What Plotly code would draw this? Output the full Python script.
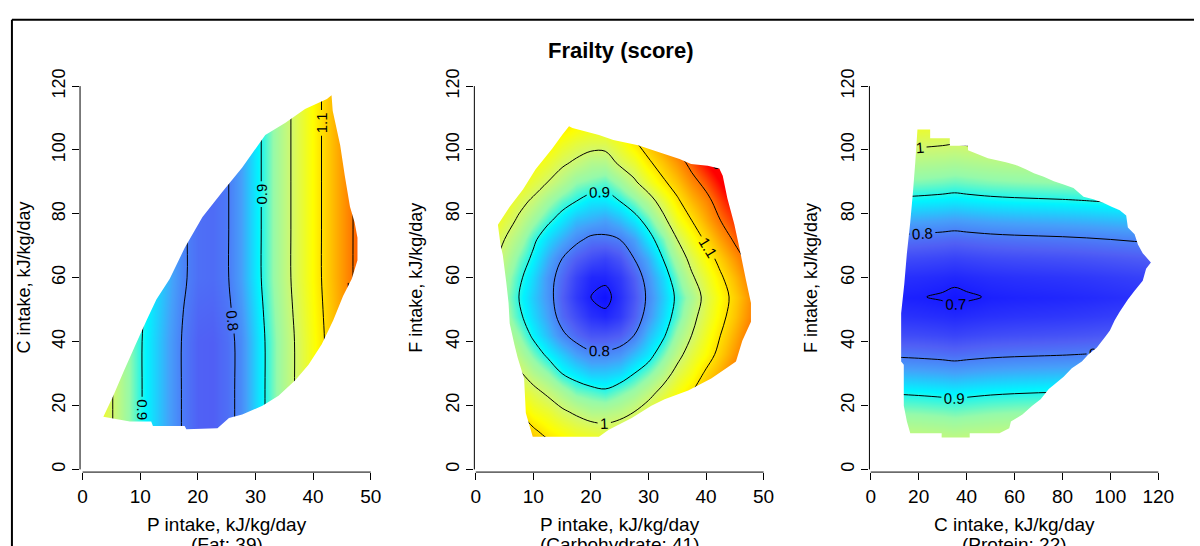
import plotly.graph_objects as go

FONT = "Liberation Sans, Arial, Helvetica, sans-serif"
W, H = 1200, 546

# ======================= data =======================
title = "Frailty (score)"
x_titles = ["P intake, kJ/kg/day", "P intake, kJ/kg/day", "C intake, kJ/kg/day"]
x_sub = ["(Fat: 39)", "(Carbohydrate: 41)", "(Protein: 22)"]
y_titles = ["C intake, kJ/kg/day", "F intake, kJ/kg/day", "F intake, kJ/kg/day"]
x_ticks = [[0, 10, 20, 30, 40, 50], [0, 10, 20, 30, 40, 50], [0, 20, 40, 60, 80, 100, 120]]
y_ticks = [0, 20, 40, 60, 80, 100, 120]
contour_levels = [0.7, 1.3, 0.1]   # start, end, step

# Panel 1: P (x) vs C (y), fat fixed at 39
p1_x = [2.5, 5, 7.5, 10, 12.5, 15, 17.5, 20, 22.5, 25, 27.5, 30, 32.5, 35, 37.5, 40, 42.5, 45, 47.5, 50]
p1_y = [10, 25, 40, 50, 60, 75, 90, 105, 120]
p1_z = [
    [1.06, 1.005, 0.95, 0.905, 0.866, 0.83, 0.795, 0.772, 0.77, 0.785, 0.812, 0.865, 0.918, 0.966, 1.014, 1.062, 1.11, 1.158, 1.205, 1.25],
    [1.06, 1.005, 0.95, 0.905, 0.866, 0.83, 0.795, 0.772, 0.77, 0.785, 0.812, 0.865, 0.918, 0.966, 1.014, 1.062, 1.11, 1.158, 1.205, 1.25],
    [1.06, 1.005, 0.95, 0.905, 0.866, 0.83, 0.795, 0.772, 0.77, 0.785, 0.812, 0.865, 0.918, 0.966, 1.014, 1.062, 1.11, 1.158, 1.205, 1.25],
    [1.065, 1.01, 0.955, 0.91, 0.87, 0.835, 0.8, 0.778, 0.776, 0.79, 0.821, 0.872, 0.924, 0.972, 1.02, 1.067, 1.115, 1.162, 1.208, 1.252],
    [1.07, 1.015, 0.96, 0.915, 0.875, 0.84, 0.805, 0.785, 0.782, 0.795, 0.83, 0.88, 0.93, 0.978, 1.026, 1.072, 1.12, 1.166, 1.21, 1.255],
    [1.07, 1.015, 0.96, 0.915, 0.875, 0.84, 0.805, 0.785, 0.782, 0.795, 0.83, 0.88, 0.93, 0.978, 1.026, 1.072, 1.12, 1.166, 1.21, 1.255],
    [1.07, 1.015, 0.96, 0.915, 0.875, 0.84, 0.805, 0.785, 0.782, 0.795, 0.83, 0.88, 0.93, 0.978, 1.026, 1.072, 1.12, 1.166, 1.21, 1.255],
    [1.07, 1.015, 0.96, 0.915, 0.875, 0.84, 0.805, 0.785, 0.782, 0.795, 0.83, 0.88, 0.93, 0.978, 1.026, 1.072, 1.12, 1.166, 1.21, 1.255],
    [1.07, 1.015, 0.96, 0.915, 0.875, 0.84, 0.805, 0.785, 0.782, 0.795, 0.83, 0.88, 0.93, 0.978, 1.026, 1.072, 1.12, 1.166, 1.21, 1.255],
]

# Panel 2: P (x) vs F (y), carbohydrate fixed at 41
p2_x = [2.5, 5, 7.5, 10, 12.5, 15, 17.5, 20, 22.5, 25, 27.5, 30, 32.5, 35, 37.5, 40, 42.5, 45, 47.5, 50]
p2_y = [6, 12, 18, 24, 30, 36, 42, 48, 54, 60, 66, 72, 78, 84, 90, 96, 102, 108]
p2_z = [
    [1.25, 1.22, 1.19, 1.16, 1.13, 1.11, 1.09, 1.08, 1.08, 1.09, 1.11, 1.13, 1.16, 1.19, 1.23, 1.26, 1.30, 1.34, 1.39, 1.43],
    [1.21, 1.17, 1.14, 1.11, 1.08, 1.06, 1.04, 1.03, 1.02, 1.03, 1.05, 1.08, 1.11, 1.15, 1.18, 1.22, 1.26, 1.30, 1.35, 1.39],
    [1.16, 1.13, 1.10, 1.06, 1.04, 1.01, 0.99, 0.97, 0.97, 0.98, 1.00, 1.03, 1.07, 1.10, 1.14, 1.18, 1.22, 1.27, 1.31, 1.36],
    [1.12, 1.09, 1.05, 1.02, 0.99, 0.96, 0.93, 0.92, 0.91, 0.93, 0.95, 0.98, 1.02, 1.06, 1.10, 1.14, 1.19, 1.23, 1.28, 1.32],
    [1.09, 1.05, 1.01, 0.97, 0.94, 0.90, 0.88, 0.86, 0.86, 0.87, 0.90, 0.93, 0.97, 1.02, 1.06, 1.11, 1.15, 1.20, 1.25, 1.29],
    [1.05, 1.01, 0.97, 0.93, 0.89, 0.86, 0.83, 0.81, 0.81, 0.82, 0.85, 0.88, 0.93, 0.98, 1.03, 1.07, 1.12, 1.17, 1.22, 1.27],
    [1.03, 0.98, 0.94, 0.89, 0.85, 0.81, 0.78, 0.76, 0.76, 0.77, 0.80, 0.85, 0.89, 0.95, 1.00, 1.05, 1.10, 1.15, 1.20, 1.25],
    [1.00, 0.96, 0.91, 0.87, 0.83, 0.78, 0.75, 0.72, 0.71, 0.73, 0.77, 0.82, 0.87, 0.92, 0.98, 1.03, 1.08, 1.13, 1.18, 1.23],
    [0.99, 0.95, 0.90, 0.86, 0.82, 0.77, 0.73, 0.70, 0.685, 0.72, 0.76, 0.81, 0.86, 0.91, 0.96, 1.02, 1.07, 1.12, 1.17, 1.22],
    [1.00, 0.96, 0.91, 0.87, 0.82, 0.78, 0.74, 0.71, 0.71, 0.73, 0.77, 0.82, 0.87, 0.93, 0.99, 1.04, 1.09, 1.14, 1.19, 1.25],
    [1.02, 0.98, 0.93, 0.89, 0.84, 0.80, 0.77, 0.75, 0.74, 0.76, 0.80, 0.84, 0.90, 0.96, 1.02, 1.07, 1.12, 1.17, 1.22, 1.28],
    [1.04, 1.00, 0.96, 0.91, 0.87, 0.84, 0.81, 0.79, 0.79, 0.80, 0.83, 0.88, 0.93, 1.00, 1.06, 1.11, 1.16, 1.21, 1.26, 1.31],
    [1.07, 1.03, 0.99, 0.95, 0.91, 0.88, 0.85, 0.84, 0.83, 0.85, 0.88, 0.92, 0.98, 1.05, 1.10, 1.15, 1.20, 1.24, 1.29, 1.34],
    [1.10, 1.06, 1.02, 0.99, 0.95, 0.92, 0.90, 0.88, 0.88, 0.90, 0.93, 0.97, 1.03, 1.09, 1.14, 1.18, 1.23, 1.28, 1.33, 1.38],
    [1.13, 1.09, 1.06, 1.03, 1.00, 0.97, 0.94, 0.93, 0.92, 0.95, 0.99, 1.04, 1.09, 1.13, 1.18, 1.22, 1.27, 1.32, 1.37, 1.42],
    [1.16, 1.13, 1.10, 1.07, 1.04, 1.01, 0.99, 0.97, 0.97, 1.01, 1.04, 1.09, 1.13, 1.17, 1.22, 1.27, 1.31, 1.36, 1.41, 1.46],
    [1.20, 1.17, 1.14, 1.11, 1.08, 1.05, 1.03, 1.02, 1.02, 1.05, 1.09, 1.13, 1.17, 1.22, 1.26, 1.31, 1.35, 1.40, 1.45, 1.50],
    [1.24, 1.21, 1.18, 1.15, 1.12, 1.10, 1.08, 1.07, 1.07, 1.10, 1.13, 1.17, 1.22, 1.26, 1.30, 1.35, 1.39, 1.44, 1.49, 1.54],
]

# Panel 3: C (x) vs F (y), protein fixed at 22
p3_x = [10, 20, 30, 35, 40, 50, 60, 70, 80, 90, 100, 110, 120]
p3_y = [6, 12, 18, 24, 30, 36, 42, 48, 54, 60, 66, 72, 78, 84, 90, 96, 102, 108]
p3_z = [
    [1.015, 1.012, 1.008, 1.005, 1.008, 1.013, 1.016, 1.018, 1.020, 1.023, 1.027, 1.031, 1.035],
    [0.977, 0.974, 0.970, 0.967, 0.970, 0.975, 0.978, 0.980, 0.982, 0.985, 0.989, 0.993, 0.997],
    [0.939, 0.936, 0.932, 0.929, 0.932, 0.937, 0.940, 0.942, 0.944, 0.947, 0.951, 0.955, 0.959],
    [0.897, 0.894, 0.890, 0.887, 0.890, 0.895, 0.898, 0.900, 0.902, 0.905, 0.909, 0.913, 0.917],
    [0.843, 0.840, 0.836, 0.833, 0.836, 0.841, 0.844, 0.846, 0.848, 0.851, 0.855, 0.859, 0.863],
    [0.793, 0.790, 0.786, 0.783, 0.786, 0.791, 0.794, 0.796, 0.798, 0.801, 0.805, 0.809, 0.813],
    [0.752, 0.749, 0.745, 0.742, 0.745, 0.750, 0.753, 0.755, 0.757, 0.760, 0.764, 0.768, 0.772],
    [0.723, 0.720, 0.716, 0.713, 0.716, 0.721, 0.724, 0.726, 0.728, 0.731, 0.735, 0.739, 0.743],
    [0.705, 0.702, 0.696, 0.690, 0.695, 0.703, 0.706, 0.708, 0.710, 0.713, 0.717, 0.721, 0.725],
    [0.720, 0.717, 0.713, 0.710, 0.713, 0.718, 0.721, 0.723, 0.725, 0.728, 0.732, 0.736, 0.740],
    [0.749, 0.746, 0.742, 0.739, 0.742, 0.747, 0.750, 0.752, 0.754, 0.757, 0.761, 0.765, 0.769],
    [0.788, 0.785, 0.781, 0.778, 0.781, 0.786, 0.789, 0.791, 0.793, 0.796, 0.800, 0.804, 0.808],
    [0.837, 0.834, 0.830, 0.827, 0.830, 0.835, 0.838, 0.840, 0.842, 0.845, 0.849, 0.853, 0.857],
    [0.891, 0.888, 0.884, 0.881, 0.884, 0.889, 0.892, 0.894, 0.896, 0.899, 0.903, 0.907, 0.911],
    [0.935, 0.932, 0.928, 0.925, 0.928, 0.933, 0.936, 0.938, 0.940, 0.943, 0.947, 0.951, 0.955],
    [0.973, 0.970, 0.966, 0.963, 0.966, 0.971, 0.974, 0.976, 0.978, 0.981, 0.985, 0.989, 0.993],
    [1.011, 1.008, 1.004, 1.001, 1.004, 1.009, 1.012, 1.014, 1.016, 1.019, 1.023, 1.027, 1.031],
    [1.051, 1.048, 1.044, 1.041, 1.044, 1.049, 1.052, 1.054, 1.056, 1.059, 1.063, 1.067, 1.071],
]

# outlines of the sampled diet region in each panel (x, y)
hull1 = [(3.6,16.5),(5.3,23),(7.1,30.6),(9.1,38.7),(11.1,46.7),(12.8,53.2),(15.1,59.6),(17.7,69.3),(20.8,79),(24.3,87),(27.7,94.5),(31.7,104.7),(35.2,108.5),(38.6,112.8),(42.4,116),(43.2,117.1),(43.4,112.3),(44.7,101.5),(45.5,91.9),(46.4,82.2),(47.2,77.4),(47.7,72.5),(47.7,65.5),(46.7,59.6),(45.2,54.3),(43.5,46.7),(41.5,39.2),(39.2,32.8),(36.9,27.9),(34,23.1),(31.2,19.9),(27.7,17.2),(25.4,16.1),(23.4,12.9),(18,12.6),(17.7,13.6),(12.2,13.6),(11.9,15),(8.2,15)]
hull2 = [(3.85,76.6),(5.9,82.2),(8.2,87.6),(10.4,94),(13.3,100.5),(15,104.7),(16.2,107.4),(16.8,106.9),(21.4,104.7),(23.9,103.1),(28.2,101.5),(30.8,99.9),(35.4,97.2),(37.4,95.6),(40.3,95.1),(42.3,94.2),(42.9,91.9),(43.7,84.9),(44.9,76.8),(45.8,69.3),(46.9,59.6),(47.8,52.1),(47.8,46.2),(46.3,40.3),(45.2,33.8),(43.7,31.9),(40.9,28.5),(36.9,24.7),(32.8,22),(30.5,19.9),(27.1,16.1),(23.1,12.4),(21.4,10.2),(9.9,10.2),(8.7,17.7),(8.4,28.5),(7.3,34.9),(6.7,39.2),(5.9,45.7),(5.7,52.1),(5.3,58.6),(4.7,67.1),(4.3,70.4)]
hull3 = [(19.5,106.4),(24.8,106.4),(24.8,103.7),(33,103.7),(33,101.3),(40.6,101.3),(40.6,99.9),(48.9,97.4),(56.4,96.2),(60.5,95.3),(64.7,94),(68.1,92.7),(72.2,91.6),(76.4,90.2),(80.5,89.2),(84.6,88.1),(88.8,85.4),(92.9,84.6),(97,83.5),(100.5,82.2),(103.9,81.1),(106.6,79.5),(107.3,75.7),(110.1,73.6),(111.5,70.4),(113.5,67.7),(116.9,64.8),(114.9,62.8),(113.5,59.1),(110.1,55.9),(107.3,53.2),(103.9,49.4),(101.8,46.7),(99.8,43.5),(97.7,41.4),(94.3,38.1),(90.8,36),(88.1,33.8),(83.9,31.7),(80.5,29),(77.1,26.9),(74.3,25.2),(70.9,22),(67.4,19.9),(63.3,17.2),(58.5,15),(57.8,12.9),(53.7,11.3),(41.3,11.3),(41.3,10),(29.6,10),(29.6,11.3),(16.5,11.3),(15.1,15),(13.8,19.9),(13.8,32.8),(12.7,33.8),(12.7,48.9),(14,58),(15.1,67.7),(16.5,77.4),(17.6,86.5),(18.6,96.2)]

# ======================= style / layout =======================
ZMIN, ZMAX = 0.66, 1.27
stops = [(0.66, "rgb(0,0,255)"), (0.70, "rgb(25,30,255)"), (0.77, "rgb(80,95,245)"),
         (0.83, "rgb(70,160,250)"), (0.89, "rgb(0,245,255)"), (0.94, "rgb(150,250,170)"),
         (1.00, "rgb(210,248,110)"), (1.07, "rgb(255,255,0)"), (1.13, "rgb(255,195,0)"),
         (1.20, "rgb(255,115,0)"), (1.27, "rgb(255,0,0)")]
cs = [[(z - ZMIN) / (ZMAX - ZMIN), c] for z, c in stops]

panels = [
    dict(xr=[-0.45, 51.5], x0=79.3, sx=5.81, xs=p1_x, ys=p1_y, zs=p1_z, hull=hull1),
    dict(xr=[-0.24, 51.5], x0=475.7, sx=5.806, xs=p2_x, ys=p2_y, zs=p2_z, hull=hull2),
    dict(xr=[-0.54, 124.0], x0=874.0, sx=2.4167, xs=p3_x, ys=p3_y, zs=p3_z, hull=hull3),
]
YR = [-0.83, 123.0]
Y0, SY = 468.3, 3.242

fig = go.Figure()
shapes, annotations = [], []
for i, p in enumerate(panels):
    n = "" if i == 0 else str(i + 1)
    xpx0 = p["x0"] + p["sx"] * p["xr"][0]
    xpx1 = p["x0"] + p["sx"] * p["xr"][1]
    ypx0 = Y0 - SY * YR[0]
    ypx1 = Y0 - SY * YR[1]
    fig.add_trace(go.Contour(
        x=p["xs"], y=p["ys"], z=p["zs"], xaxis="x" + n, yaxis="y" + n,
        colorscale=cs, zmin=ZMIN, zmax=ZMAX, showscale=False, autocontour=False,
        contours=dict(start=contour_levels[0], end=contour_levels[1], size=contour_levels[2],
                      coloring="heatmap", showlabels=True,
                      labelfont=dict(size=15, color="black", family=FONT), labelformat=".1~f"),
        line=dict(color="black", width=1, smoothing=1), hoverinfo="skip"))
    fig.update_layout(**{
        "xaxis" + n: dict(domain=[xpx0 / W, xpx1 / W], range=p["xr"], anchor="y" + n,
                          tickvals=x_ticks[i], ticks="outside", ticklen=7, tickcolor="black",
                          showgrid=False, zeroline=False, showline=False,
                          tickfont=dict(family=FONT, size=19, color="black")),
        "yaxis" + n: dict(domain=[1 - ypx0 / H, 1 - ypx1 / H], range=YR, anchor="x" + n,
                          tickvals=y_ticks, ticks="outside", ticklen=7, tickcolor="black",
                          showgrid=False, zeroline=False, showline=False, tickangle=-90,
                          tickfont=dict(family=FONT, size=18, color="black")),
    })
    xa, xb = p["xr"]; ya, yb = YR
    path = (f"M{xa},{ya} L{xb},{ya} L{xb},{yb} L{xa},{yb} Z M"
            + " L".join(f"{x},{y}" for x, y in p["hull"]) + " Z")
    shapes.append(dict(type="path", path=path, xref="x" + n, yref="y" + n, fillcolor="white",
                       fillrule="evenodd", line=dict(width=0), layer="above"))
    xt = x_ticks[i]
    shapes.append(dict(type="line", xref="paper", yref="paper",
                       x0=(p["x0"] + p["sx"] * xt[0]) / W, x1=(p["x0"] + p["sx"] * xt[-1]) / W,
                       y0=1 - ypx0 / H, y1=1 - ypx0 / H, line=dict(color="black", width=1)))
    shapes.append(dict(type="line", xref="paper", yref="paper", x0=xpx0 / W, x1=xpx0 / W,
                       y0=1 - (Y0 - SY * y_ticks[0]) / H, y1=1 - (Y0 - SY * y_ticks[-1]) / H,
                       line=dict(color="black", width=1)))
    cx = (p["x0"] + p["sx"] * (xt[0] + xt[-1]) / 2) / W
    annotations.append(dict(text=x_titles[i], x=cx, y=1 - 524 / H, xref="paper", yref="paper",
                            showarrow=False, xanchor="center", yanchor="middle",
                            font=dict(family=FONT, size=19, color="black")))
    annotations.append(dict(text=x_sub[i], x=cx, y=1 - 544 / H, xref="paper", yref="paper",
                            showarrow=False, xanchor="center", yanchor="middle",
                            font=dict(family=FONT, size=19, color="black")))
    ytx = [20, 415.5, 814][i]
    annotations.append(dict(text=y_titles[i], x=ytx / W, y=1 - (Y0 - SY * 60) / H,
                            xref="paper", yref="paper", showarrow=False,
                            xanchor="center", yanchor="middle", textangle=-90,
                            font=dict(family=FONT, size=18, color="black")))

annotations.append(dict(text="<b>" + title + "</b>", x=622 / W, y=1 - 43 / H, xref="paper", yref="paper",
                        showarrow=False, xanchor="center", yanchor="middle",
                        font=dict(family=FONT, size=22, color="black")))
shapes.append(dict(type="line", xref="paper", yref="paper", x0=8 / W, x1=1, y0=1 - 12 / H, y1=1 - 12 / H,
                   line=dict(color="black", width=2)))
shapes.append(dict(type="line", xref="paper", yref="paper", x0=8 / W, x1=8 / W, y0=1 - 12 / H, y1=0,
                   line=dict(color="black", width=2)))

fig.update_layout(width=W, height=H, margin=dict(l=0, r=0, t=0, b=0), paper_bgcolor="white",
                  plot_bgcolor="white", showlegend=False, shapes=shapes, annotations=annotations)
fig.write_html("out.html")
